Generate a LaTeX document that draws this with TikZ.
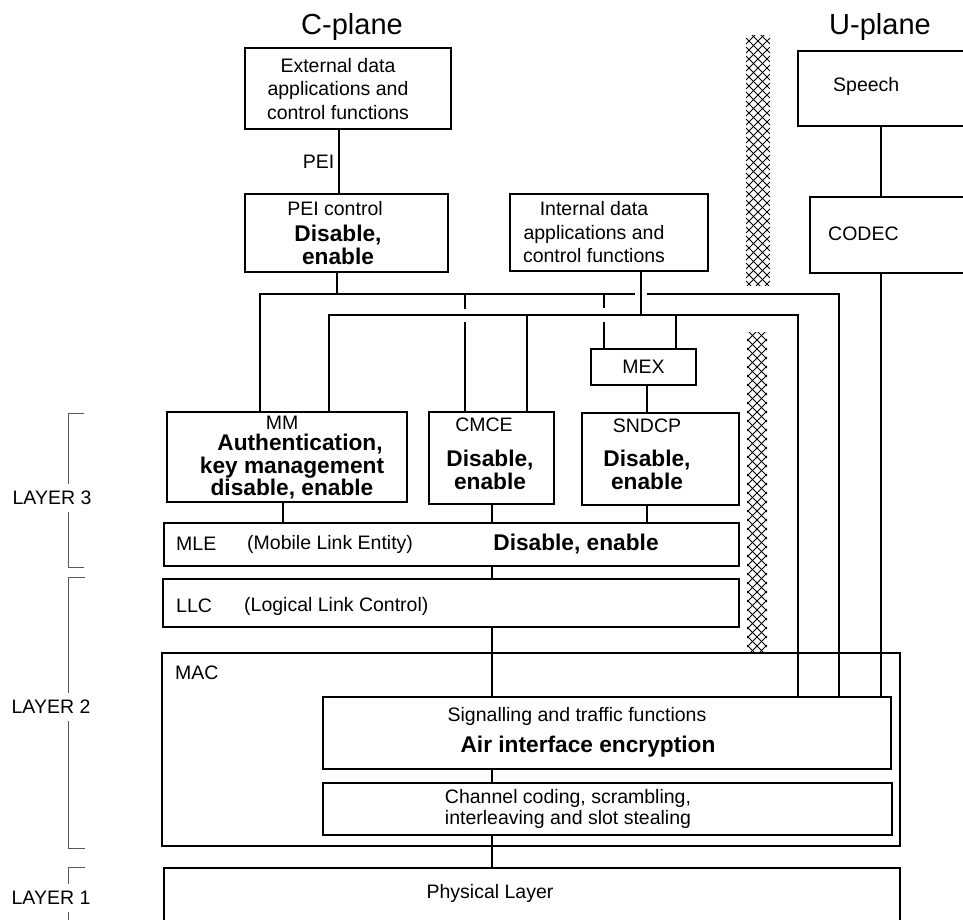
\documentclass[tikz,border=0pt]{standalone}
\usepackage{fontspec}
\setmainfont{Liberation Sans}
\usetikzlibrary{calc}

\begin{document}
\begin{tikzpicture}[
  x=1pt, y=-1pt,
  txt/.style={inner sep=0pt, align=center, font=\fontsize{19.5}{23.5}\selectfont},
  bold/.style={inner sep=0pt, align=center, font=\fontsize{22.7}{22.5}\selectfont\bfseries},
  title/.style={inner sep=0pt, font=\fontsize{29}{34}\selectfont},
  box/.style={draw, line width=1.6pt, inner sep=0pt, font=\fontsize{19.5}{23.5}\selectfont},
  wire/.style={line width=1.6pt},
  bracket/.style={draw=black!65, line width=0.9pt},
  layer/.style={txt, fill=white, inner sep=7pt},
  hatch/.style={draw=black, line width=1pt}
]
\useasboundingbox (0,0) rectangle (963,919);
\clip (0,0) rectangle (963,919);

% titles
\node[title] (cplane) at (352,27) {C-plane};
\node[title] (uplane) at (880,27) {U-plane};

% C-plane upper part
\node[box, minimum width=206pt, minimum height=81pt] (ext) at (348,88.5) {};
\node[txt] (extT) at (338,89) {External data\\applications and\\control functions};
\node[box, minimum width=203pt, minimum height=78pt] (pei) at (346.5,233) {};
\node[txt] (peiT) at (335,209) {PEI control};
\node[bold] (peiB) at (338,245) {Disable,\\enable};
\node[box, minimum width=198pt, minimum height=77pt] (intl) at (609,232.5) {};
\node[txt] (intlT) at (594,232.5) {Internal data\\applications and\\control functions};

% U-plane
\node[box, minimum width=202pt, minimum height=75pt] (speech) at (899,88.5) {};
\node[txt, anchor=west] (speechT) at (833,86) {Speech};
\node[box, minimum width=190pt, minimum height=76pt] (codec) at (905,235) {};
\node[txt, anchor=west] (codecT) at (828,234) {CODEC};

% layer 3 entities
\node[box, minimum width=105pt, minimum height=36pt] (mex) at (643.5,367) {MEX};
\node[box, minimum width=240pt, minimum height=90pt] (mm) at (287,457) {};
\node[txt] (mmT) at (282,423) {MM};
\node[bold] (mmB) at (292,467) {\hspace*{16pt}Authentication,\\key management\\disable, enable};
\node[box, minimum width=125pt, minimum height=92pt] (cmce) at (491.5,458) {};
\node[txt] (cmceT) at (484,425) {CMCE};
\node[bold] (cmceB) at (490,470) {Disable,\\enable};
\node[box, minimum width=157pt, minimum height=92pt] (sndcp) at (660.5,459) {};
\node[txt] (sndcpT) at (647,426) {SNDCP};
\node[bold] (sndcpB) at (647,470) {Disable,\\enable};

\node[box, minimum width=575pt, minimum height=43pt] (mle) at (451.5,544.5) {};
\node[txt, anchor=west] (mleT) at (176,544) {MLE};
\node[txt, anchor=west] (mleL) at (247,544) {(Mobile Link Entity)};
\node[bold] (mleB) at (576,544) {Disable, enable};

% layer 2
\node[box, minimum width=576pt, minimum height=48pt] (llc) at (451,603) {};
\node[txt, anchor=west] (llcT) at (176,606) {LLC};
\node[txt, anchor=west] (llcL) at (244,606) {(Logical Link Control)};
\node[box, minimum width=738pt, minimum height=193pt] (mac) at (531,749.5) {};
\node[txt, anchor=west] (macT) at (175,673) {MAC};
\node[box, minimum width=568pt, minimum height=72pt] (sig) at (607,733) {};
\node[txt] (sigT) at (577,716) {Signalling and traffic functions};
\node[bold] (sigB) at (588,747) {Air interface encryption};
\node[box, minimum width=569pt, minimum height=52pt] (chan) at (607.5,809) {};
\node[txt, font=\fontsize{19.5}{21}\selectfont] (chanT) at (568,808.5) {Channel coding, scrambling,\\interleaving and slot stealing};

% layer 1
\node[box, minimum width=736pt, minimum height=92pt] (phy) at (532,914) {};
\node[txt] (phyT) at (490,893) {Physical Layer};

% lanes and bus points
\coordinate (lPei) at (339,0);
\coordinate (lMm) at (283,0);
\coordinate (lMain) at (492,0);
\coordinate (lMex) at (647,0);
\coordinate (lU) at (881,0);
\coordinate (p1) at (260,294);
\coordinate (p2) at (337,294);
\coordinate (p3) at (465,294);
\coordinate (p4) at (604,294);
\coordinate (p5) at (635,294);
\coordinate (p6) at (647,294);
\coordinate (p7) at (839,294);
\coordinate (q1) at (329,315);
\coordinate (q2) at (527,315);
\coordinate (q3) at (641,315);
\coordinate (q4) at (676,315);
\coordinate (q5) at (798,315);

% connectors
\draw[wire] (ext.south -| lPei) -- node[txt, left=4pt] (peiL) {PEI} (pei.north -| lPei);
\draw[wire] (mm.north -| p1) |- (p5);
\draw[wire] (p6) -| (sig.north -| p7);
\draw[wire] (pei.south -| p2) -- (p2);
\draw[wire] (mm.north -| q1) |- (q5) -- (sig.north -| q5);
\draw[wire] (intl.south -| q3) -- (q3);
\draw[wire] (cmce.north -| q2) -- (q2);
\draw[wire] (mex.north -| q4) -- (q4);
\draw[wire] (p3) -- ++(0,15) ++(0,13) -- (cmce.north -| p3);
\draw[wire] (p4) -- ++(0,14) ++(0,14) -- (mex.north -| p4);
\draw[wire] (mex.south -| lMex) -- (sndcp.north -| lMex);
\draw[wire] (speech.south -| lU) -- (codec.north -| lU);
\draw[wire] (codec.south -| lU) -- (sig.north -| lU);
\draw[wire] (mm.south -| lMm) -- (mle.north -| lMm);
\draw[wire] (cmce.south -| lMain) -- (mle.north -| lMain);
\draw[wire] (sndcp.south -| lMex) -- (mle.north -| lMex);
\draw[wire] (mle.south -| lMain) -- (llc.north -| lMain);
\draw[wire] (llc.south -| lMain) -- (sig.north -| lMain);
\draw[wire] (sig.south -| lMain) -- (chan.north -| lMain);
\draw[wire] (chan.south -| lMain) -- (phy.north -| lMain);

% separators
\begin{scope}
  \clip (746,35) rectangle (770,285);
  \foreach \y in {11,20,...,294} {
    \draw[hatch] (746,\y) -- (770,\y+24);
    \draw[hatch] (746,\y+24) -- (770,\y);
  }
\end{scope}
\begin{scope}
  \clip (747,332) rectangle (767,652);
  \foreach \y in {312,321,...,660} {
    \draw[hatch] (747,\y) -- (767,\y+20);
    \draw[hatch] (747,\y+20) -- (767,\y);
  }
\end{scope}

% layer brackets
\draw[bracket] (84,413) -- (68,413) -- (68,567) -- (84,567);
\node[layer] (l3) at (52,498) {LAYER 3};
\draw[bracket] (85,577) -- (68,577) -- (68,848) -- (85,848);
\node[layer] (l2) at (51,707) {LAYER 2};
\draw[bracket] (85,867) -- (68,867) -- (68,930);
\node[layer] (l1) at (51,898) {LAYER 1};
\end{tikzpicture}
\end{document}
